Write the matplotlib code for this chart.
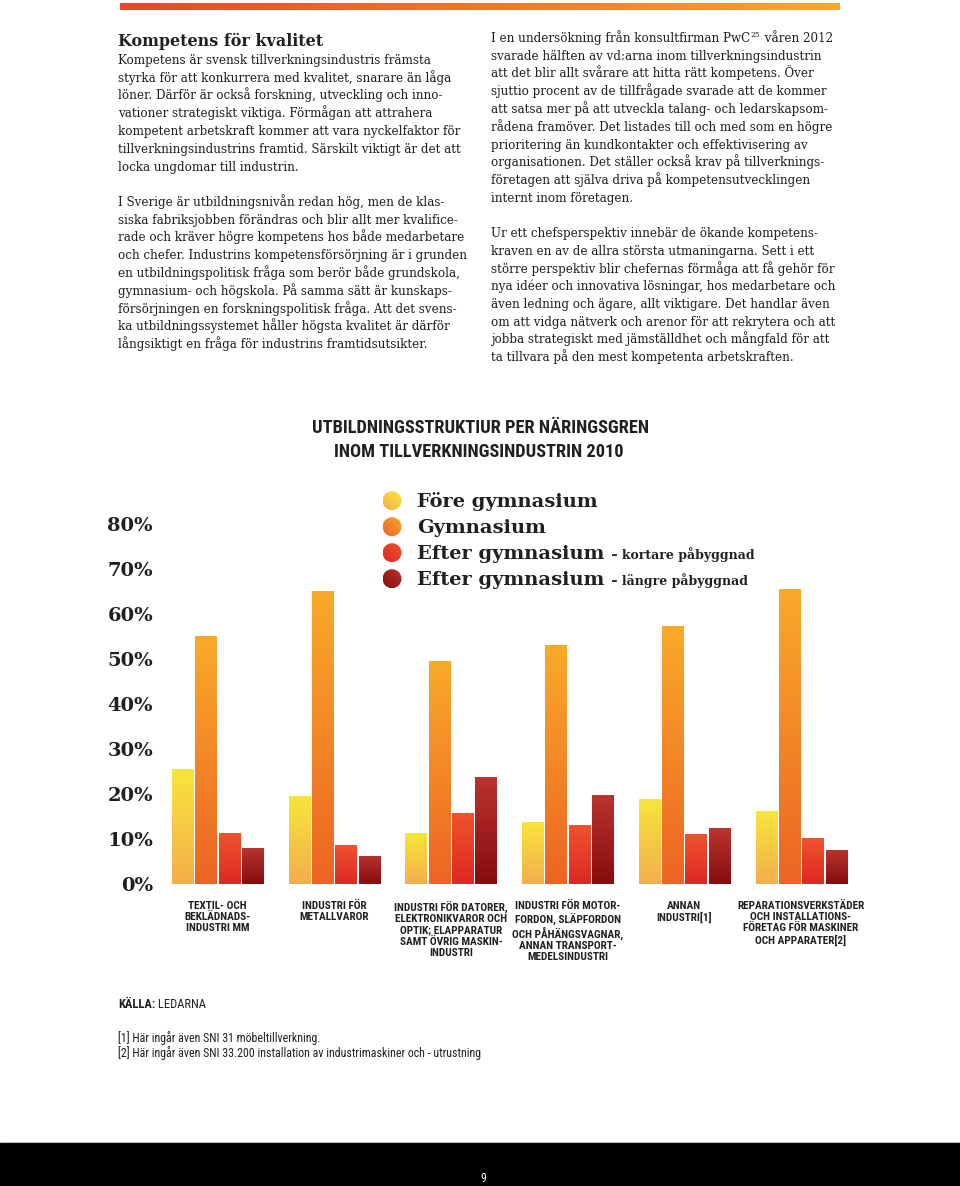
import numpy as np
import matplotlib
matplotlib.use('Agg')
import matplotlib.pyplot as plt
from matplotlib import font_manager
from matplotlib.colors import LinearSegmentedColormap
from matplotlib.patches import Circle, Rectangle

# data
categories = ['TEXTIL- OCH\nBEKLÄDNADS-\nINDUSTRI MM',
              'INDUSTRI FÖR\nMETALLVAROR',
              'INDUSTRI FÖR DATORER,\nELEKTRONIKVAROR OCH\nOPTIK; ELAPPARATUR\nSAMT ÖVRIG MASKIN-\nINDUSTRI',
              'INDUSTRI FÖR MOTOR-\nFORDON, SLÄPFORDON\nOCH PÅHÄNGSVAGNAR,\nANNAN TRANSPORT-\nMEDELSINDUSTRI',
              'ANNAN\nINDUSTRI[1]',
              'REPARATIONSVERKSTÄDER\nOCH INSTALLATIONS-\nFÖRETAG FÖR MASKINER\nOCH APPARATER[2]']
series = ['Före gymnasium', 'Gymnasium', 'Efter gymnasium', 'Efter gymnasium']
series_note = ['', '', '– kortare påbyggnad', '– längre påbyggnad']
fore_gymn = [25.6, 19.6, 11.3, 13.8, 18.9, 16.2]
gymnasium = [55.1, 65.2, 49.6, 53.1, 57.3, 65.6]
efter_kort = [11.3, 8.7, 15.8, 13.1, 11.1, 10.2]
efter_lang = [8.1, 6.3, 23.8, 19.8, 12.4, 7.6]
yticks = [0, 10, 20, 30, 40, 50, 60, 70, 80]

title = ['UTBILDNINGSSTRUKTIUR PER NÄRINGSGREN', 'INOM TILLVERKNINGSINDUSTRIN 2010']
heading = 'Kompetens för kvalitet'
left_p1 = ['Kompetens är svensk tillverkningsindustris främsta',
           'styrka för att konkurrera med kvalitet, snarare än låga',
           'löner. Därför är också forskning, utveckling och inno-',
           'vationer strategiskt viktiga. Förmågan att attrahera',
           'kompetent arbetskraft kommer att vara nyckelfaktor för',
           'tillverkningsindustrins framtid. Särskilt viktigt är det att',
           'locka ungdomar till industrin.']
left_p2 = ['I Sverige är utbildningsnivån redan hög, men de klas-',
           'siska fabriksjobben förändras och blir allt mer kvalifice-',
           'rade och kräver högre kompetens hos både medarbetare',
           'och chefer. Industrins kompetensförsörjning är i grunden',
           'en utbildningspolitisk fråga som berör både grundskola,',
           'gymnasium- och högskola. På samma sätt är kunskaps-',
           'försörjningen en forskningspolitisk fråga. Att det svens-',
           'ka utbildningssystemet håller högsta kvalitet är därför',
           'långsiktigt en fråga för industrins framtidsutsikter.']
right_p1 = ['I en undersökning från konsultfirman PwC',
            'svarade hälften av vd:arna inom tillverkningsindustrin',
            'att det blir allt svårare att hitta rätt kompetens. Över',
            'sjuttio procent av de tillfrågade svarade att de kommer',
            'att satsa mer på att utveckla talang- och ledarskapsom-',
            'rådena framöver. Det listades till och med som en högre',
            'prioritering än kundkontakter och effektivisering av',
            'organisationen. Det ställer också krav på tillverknings-',
            'företagen att själva driva på kompetensutvecklingen',
            'internt inom företagen.']
right_p2 = ['Ur ett chefsperspektiv innebär de ökande kompetens-',
            'kraven en av de allra största utmaningarna. Sett i ett',
            'större perspektiv blir chefernas förmåga att få gehör för',
            'nya idéer och innovativa lösningar, hos medarbetare och',
            'även ledning och ägare, allt viktigare. Det handlar även',
            'om att vidga nätverk och arenor för att rekrytera och att',
            'jobba strategiskt med jämställdhet och mångfald för att',
            'ta tillvara på den mest kompetenta arbetskraften.']
footnotes = ['[1] Här ingår även SNI 31 möbeltillverkning.',
             '[2] Här ingår även SNI 33.200 installation av industrimaskiner och - utrustning']

# färger (botten, topp)
grads = [('#f3ae4c', '#f8e63a'), ('#ed6424', '#f9aa2a'),
         ('#dd2825', '#ef532c'), ('#860c0e', '#bb3430')]
TXT = '#231f20'


def has_font(name):
    try:
        font_manager.findfont(font_manager.FontProperties(family=name), fallback_to_default=False)
        return True
    except ValueError:
        return False


NARROW, nscale = 'DejaVu Sans', 0.78
for cand in ['Liberation Sans Narrow', 'Roboto Condensed']:
    if has_font(cand):
        NARROW, nscale = cand, 1.0
        break
SERIF = 'DejaVu Serif'
BODY = 8.55

fig = plt.figure(figsize=(9.6, 11.86), dpi=100)
fig.patch.set_facecolor('white')

# sidan i pixelkoordinater
page = fig.add_axes([0, 0, 1, 1])
page.axis('off')

top_cmap = LinearSegmentedColormap.from_list('top', ['#e9472a', '#f8a62c'])
page.imshow(np.linspace(0, 1, 256)[None, :], cmap=top_cmap, extent=(120, 840, 10, 3), aspect='auto')

page.add_patch(Rectangle((0, 1143), 960, 43, color='black'))
page.plot([0, 960], [1142, 1142], color='#bbbbbb', lw=0.8)
page.text(483, 1182, '9', color='white', fontsize=8.5, ha='center', va='baseline', family=NARROW)

# textspalter
page.text(118, 46, heading, fontsize=11.5, weight='bold', family=SERIF, color=TXT, va='baseline')


def para(x, y0, lines, step=17.75):
    out = []
    for i, ln in enumerate(lines):
        out.append(page.text(x, y0 + i * step, ln, fontsize=BODY, family=SERIF,
                             color=TXT, va='baseline', ha='left'))
    return out


para(118, 64, left_p1)
para(118, 206, left_p2)
r1 = para(491, 42, right_p1)
para(491, 237, right_p2)
sup = page.annotate('25', xy=(1, 37), xycoords=(r1[0], 'data'), xytext=(0.5, 0),
                    textcoords='offset points', fontsize=5.5, family=SERIF, color=TXT, va='baseline')
page.annotate(' våren 2012', xy=(1, 42), xycoords=(sup, 'data'), fontsize=BODY,
              family=SERIF, color=TXT, va='baseline')

# diagramrubrik
page.text(480, 428, title[0], fontsize=13.2 * nscale, weight='bold', family=NARROW,
          color=TXT, ha='center', va='center')
page.text(479, 452, title[1], fontsize=13.2 * nscale, weight='bold', family=NARROW,
          color=TXT, ha='center', va='center')

# legend
leg_y = [500.7, 526.7, 552.7, 578.7]
nn = 64
xx, yy = np.meshgrid(np.linspace(0, 1, nn), np.linspace(0, 1, nn))
for k, name in enumerate(series):
    cy = leg_y[k]
    circ = Circle((392, cy), 9.5, facecolor='none', edgecolor='none')
    page.add_patch(circ)
    cm = LinearSegmentedColormap.from_list('c%d' % k, grads[k])
    im = page.imshow((xx + yy) / 2, cmap=cm, origin='lower',
                     extent=(392 - 9.5, 392 + 9.5, cy + 9.5, cy - 9.5), aspect='auto')
    im.set_clip_path(circ)
    t = page.text(417, cy + 6.5, name, fontsize=14, weight='bold', family=SERIF,
                  color=TXT, va='baseline')
    if series_note[k]:
        page.annotate(' ' + series_note[k], xy=(1, cy + 6.5), xycoords=(t, 'data'),
                      xytext=(2, 0), textcoords='offset points',
                      fontsize=9, weight='bold', family=SERIF, color=TXT, va='baseline')

# källa och fotnoter
k1 = page.text(118, 1008, 'KÄLLA:', fontsize=9 * nscale, weight='bold', family=NARROW,
               color=TXT, va='baseline')
page.annotate(' LEDARNA', xy=(1, 1008), xycoords=(k1, 'data'), fontsize=9 * nscale,
              family=NARROW, color=TXT, va='baseline')
for i, fn in enumerate(footnotes):
    page.text(118, 1042 + i * 15, fn, fontsize=8.6 * nscale, family=NARROW, color=TXT,
              va='baseline')

page.set_xlim(0, 960)
page.set_ylim(1186, 0)

# stapeldiagram
ax = fig.add_axes([165 / 960, (1186 - 884) / 1186, 705 / 960, 360 / 1186])
ax.patch.set_alpha(0)
x = np.arange(len(categories))
bw = 0.18
gcol = np.linspace(0, 1, 256).reshape(-1, 1)
for k, vals in enumerate([fore_gymn, gymnasium, efter_kort, efter_lang]):
    bars = ax.bar(x + (k - 1.5) * 0.2, vals, bw, color=grads[k][0], zorder=2)
    cm = LinearSegmentedColormap.from_list('b%d' % k, grads[k])
    for b in bars:
        x0, w, h = b.get_x(), b.get_width(), b.get_height()
        im = ax.imshow(gcol, cmap=cm, origin='lower', extent=(x0, x0 + w, 0, h),
                       aspect='auto', zorder=3)
        im.set_clip_path(b)

ax.set_xlim(-0.45, 5.591)
ax.set_ylim(0, 80)
ax.set_yticks(yticks, [f'{v}%' for v in yticks])
ax.set_xticks(x, categories)
ax.tick_params(length=0)
ax.tick_params(axis='y', pad=8.6, labelsize=14, labelcolor=TXT)
ax.tick_params(axis='x', pad=12, labelsize=8.1 * nscale, labelcolor=TXT)
for lb in ax.get_yticklabels():
    lb.set_fontfamily(SERIF)
    lb.set_fontweight('bold')
for lb in ax.get_xticklabels():
    lb.set_fontfamily(NARROW)
    lb.set_fontweight('bold')
    lb.set_linespacing(1.15)
    lb.set_verticalalignment('top')
for s in ax.spines.values():
    s.set_visible(False)

fig.savefig('out.png', dpi=100, facecolor='white')
